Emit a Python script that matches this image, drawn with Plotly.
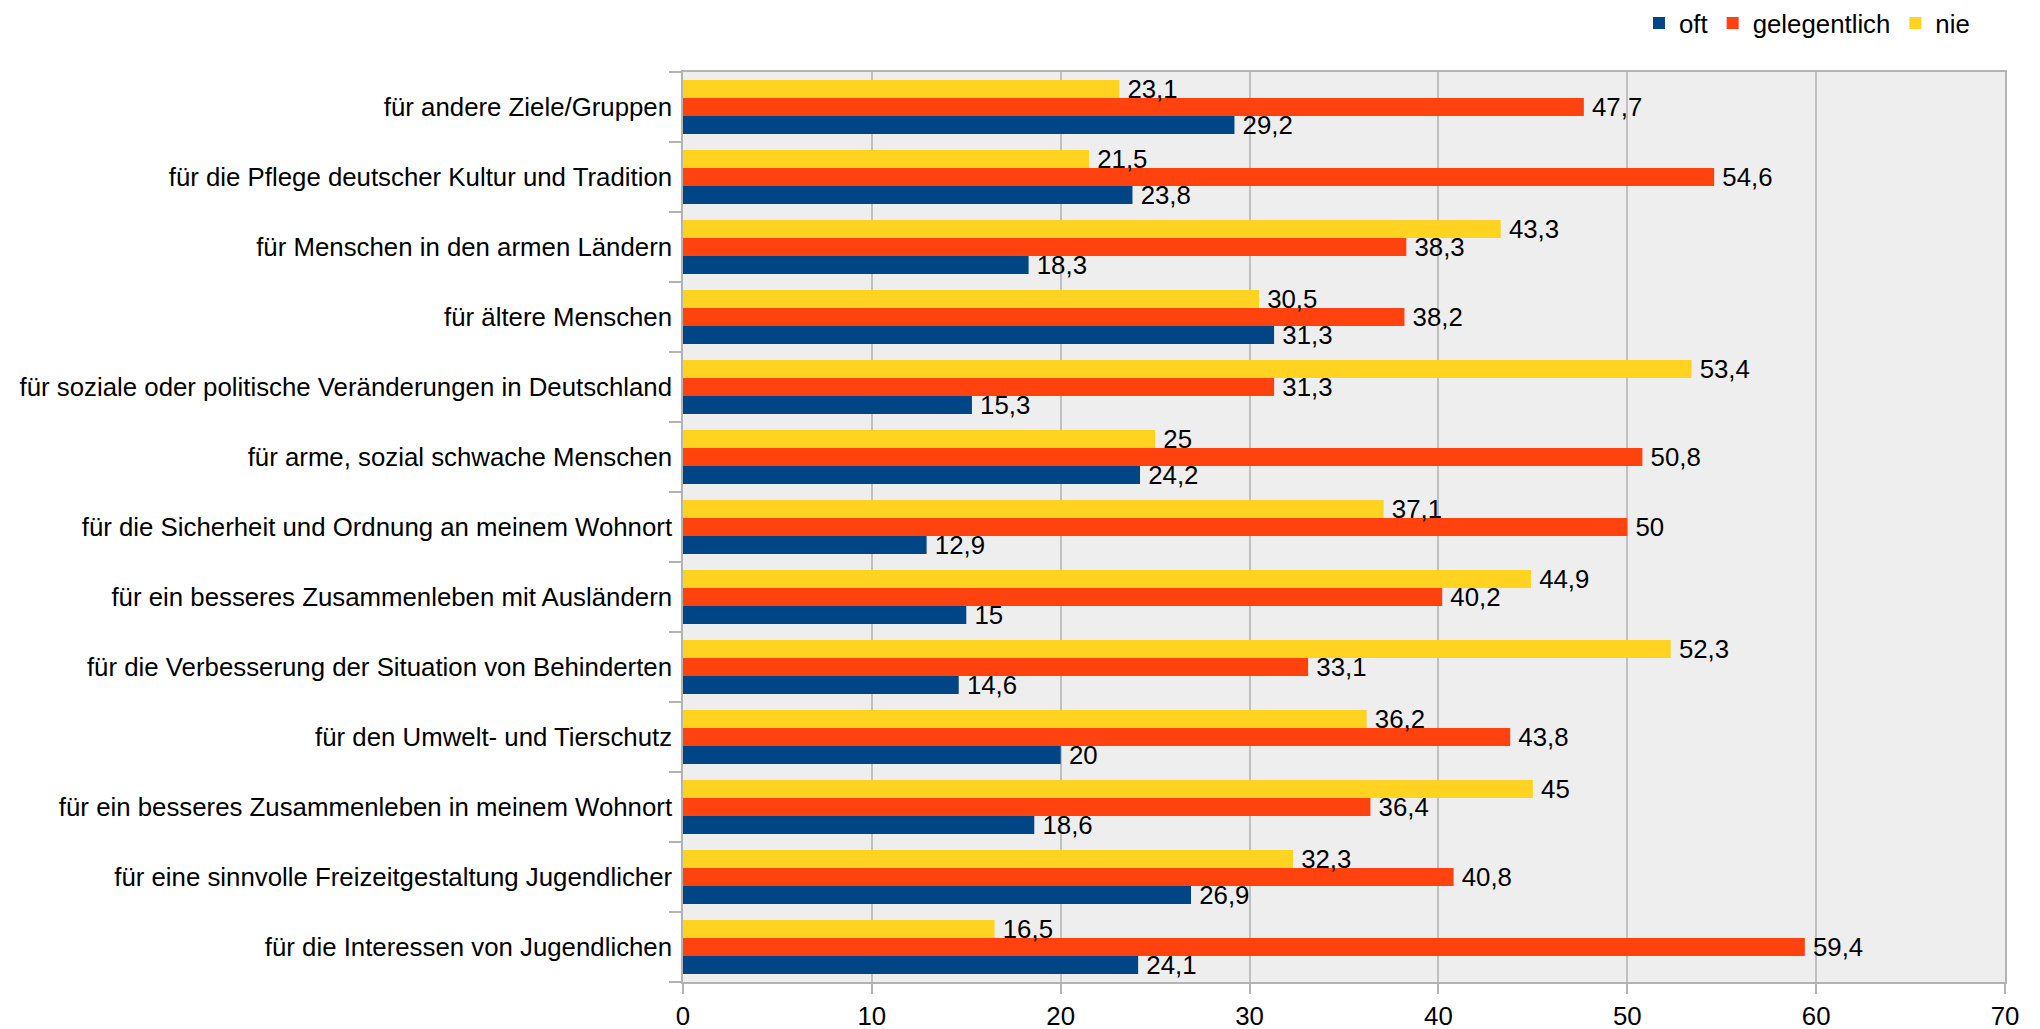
import plotly.graph_objects as go

categories = [
    "für die Interessen von Jugendlichen",
    "für eine sinnvolle Freizeitgestaltung Jugendlicher",
    "für ein besseres Zusammenleben in meinem Wohnort",
    "für den Umwelt- und Tierschutz",
    "für die Verbesserung der Situation von Behinderten",
    "für ein besseres Zusammenleben mit Ausländern",
    "für die Sicherheit und Ordnung an meinem Wohnort",
    "für arme, sozial schwache Menschen",
    "für soziale oder politische Veränderungen in Deutschland",
    "für ältere Menschen",
    "für Menschen in den armen Ländern",
    "für die Pflege deutscher Kultur und Tradition",
    "für andere Ziele/Gruppen",
]
oft = [24.1, 26.9, 18.6, 20, 14.6, 15, 12.9, 24.2, 15.3, 31.3, 18.3, 23.8, 29.2]
gelegentlich = [59.4, 40.8, 36.4, 43.8, 33.1, 40.2, 50, 50.8, 31.3, 38.2, 38.3, 54.6, 47.7]
nie = [16.5, 32.3, 45, 36.2, 52.3, 44.9, 37.1, 25, 53.4, 30.5, 43.3, 21.5, 23.1]

series = [("oft", oft, "#004586"), ("gelegentlich", gelegentlich, "#ff420e"), ("nie", nie, "#ffd320")]

FONT = "Liberation Sans, Arial, sans-serif"
FS = 25.8

def fmt(v):
    return "\u2009" + f"{v:g}".replace(".", ",")

fig = go.Figure()
for name, vals, color in series:
    fig.add_trace(go.Bar(
        y=categories, x=vals, name=name, orientation="h",
        marker=dict(color=color, line=dict(width=0)),
        text=[fmt(v) for v in vals], textposition="outside",
        constraintext="none", cliponaxis=False,
        textfont=dict(family=FONT, size=FS, color="#000000"),
    ))

fig.update_layout(
    width=2032, height=1021,
    barmode="group", bargap=0.23, bargroupgap=0,
    plot_bgcolor="#eeeeee", paper_bgcolor="#ffffff",
    margin=dict(l=675, r=35, t=64, b=47, autoexpand=False),
    font=dict(family=FONT, size=FS, color="#000000"),
    legend=dict(orientation="h", xref="container", yref="container",
                x=0.968, xanchor="right", y=0.985, yanchor="middle",
                font=dict(family=FONT, size=FS), itemwidth=30, traceorder="normal",
                bgcolor="rgba(0,0,0,0)"),
    showlegend=True,
)
fig.update_xaxes(
    range=[0, 70], dtick=10, tick0=0,
    showgrid=True, gridcolor="#c0c0c0", gridwidth=1.5,
    showline=True, linecolor="#b3b3b3", linewidth=1.5, mirror=True,
    ticks="outside", ticklen=10, tickcolor="#b3b3b3", tickwidth=1.5,
    ticklabelstandoff=0, zeroline=False,
    tickfont=dict(family=FONT, size=FS),
)
fig.update_yaxes(
    type="category", categoryorder="array", categoryarray=categories,
    tickson="boundaries", ticks="outside", ticklen=12, tickcolor="#b3b3b3", tickwidth=1.5,
    showline=True, linecolor="#b3b3b3", linewidth=1.5, mirror=True,
    showgrid=False, ticklabelstandoff=4,
    tickfont=dict(family=FONT, size=FS),
)

fig.write_html("out.html")
